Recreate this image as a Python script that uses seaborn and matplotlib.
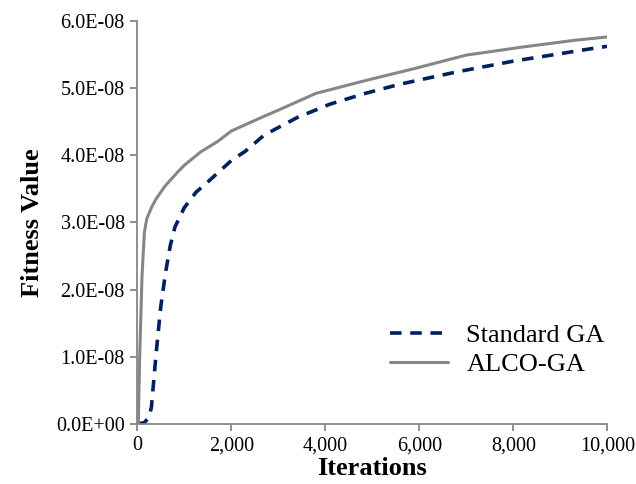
import matplotlib
matplotlib.use("Agg")
import matplotlib.pyplot as plt
import matplotlib.ticker as mticker
import seaborn as sns
import pandas as pd

# Data (fitness in units of 1E-08)
std_iter = [0, 150, 250, 300, 400, 500, 600, 700, 800, 1000, 1250, 1450, 1700, 2000,
            2300, 2700, 3400, 4100, 4850, 5550, 6000, 6800, 8000, 8900, 9700, 10000]
std_fit = [0.0, 0.02, 0.1, 0.25, 1.05, 1.75, 2.25, 2.65, 2.93, 3.22, 3.45, 3.57, 3.73, 3.92,
           4.06, 4.30, 4.56, 4.76, 4.92, 5.05, 5.12, 5.24, 5.40, 5.50, 5.59, 5.62]
alco_iter = [0, 20, 50, 100, 150, 200, 300, 400, 600, 860, 1000, 1350, 1700, 2000,
             2700, 3000, 3800, 4850, 5900, 7000, 8200, 9300, 10000]
alco_fit = [0.0, 0.0, 1.0, 2.2, 2.85, 3.05, 3.22, 3.35, 3.55, 3.75, 3.85, 4.05, 4.20, 4.36,
            4.58, 4.67, 4.92, 5.11, 5.29, 5.49, 5.61, 5.71, 5.76]
series_names = ["Standard GA", "ALCO-GA"]
x_ticks = [0, 2000, 4000, 6000, 8000, 10000]
y_ticks = [0.0, 1.0e-8, 2.0e-8, 3.0e-8, 4.0e-8, 5.0e-8, 6.0e-8]

sns.set_style("white")
plt.rcParams['font.family'] = ['Liberation Serif', 'DejaVu Serif']
plt.rcParams['text.color'] = 'black'
plt.rcParams['axes.labelcolor'] = 'black'

df_std = pd.DataFrame({"Iterations": std_iter, "Fitness": [v * 1e-8 for v in std_fit]})
df_alco = pd.DataFrame({"Iterations": alco_iter, "Fitness": [v * 1e-8 for v in alco_fit]})

fig = plt.figure(figsize=(6.36, 4.84), dpi=100)
ax = fig.add_axes([0.2159, 0.124, 0.739, 0.833])

sns.lineplot(data=df_std, x="Iterations", y="Fitness", ax=ax, color="#002060",
             linewidth=2.6, linestyle=(0, (3.2, 2.4)), label=series_names[0])
sns.lineplot(data=df_alco, x="Iterations", y="Fitness", ax=ax, color="#868686",
             linewidth=2.2, label=series_names[1])

ax.set_xlim(0, 10000)
ax.set_ylim(0, 6.0e-8)
ax.set_xticks(x_ticks)
ax.set_yticks(y_ticks)
ax.xaxis.set_major_formatter(mticker.FuncFormatter(lambda v, p: f"{int(v):,}"))

def yfmt(v, p):
    if v == 0:
        return "0.0E+00"
    return f"{v:.1E}"

ax.yaxis.set_major_formatter(mticker.FuncFormatter(yfmt))

for side in ["top", "right"]:
    ax.spines[side].set_visible(False)
for side in ["left", "bottom"]:
    ax.spines[side].set_color("#868686")
    ax.spines[side].set_linewidth(1.3)

ax.tick_params(axis="both", direction="out", length=5, width=1.3, color="#868686",
               labelsize=14.5, labelcolor="black", pad=4, left=True, bottom=True)

ax.set_xlabel("Iterations", fontsize=19, fontweight="bold", labelpad=1, color="black")
ax.set_ylabel("Fitness Value", fontsize=19, fontweight="bold", labelpad=9, color="black")

leg = ax.legend(loc="upper left", bbox_to_anchor=(0.515, 0.275), frameon=False,
                fontsize=19, handlelength=2.2, handletextpad=0.7, labelspacing=0.2,
                borderaxespad=0)
for t in leg.get_texts():
    t.set_color("black")

fig.savefig("out.png", dpi=100)
